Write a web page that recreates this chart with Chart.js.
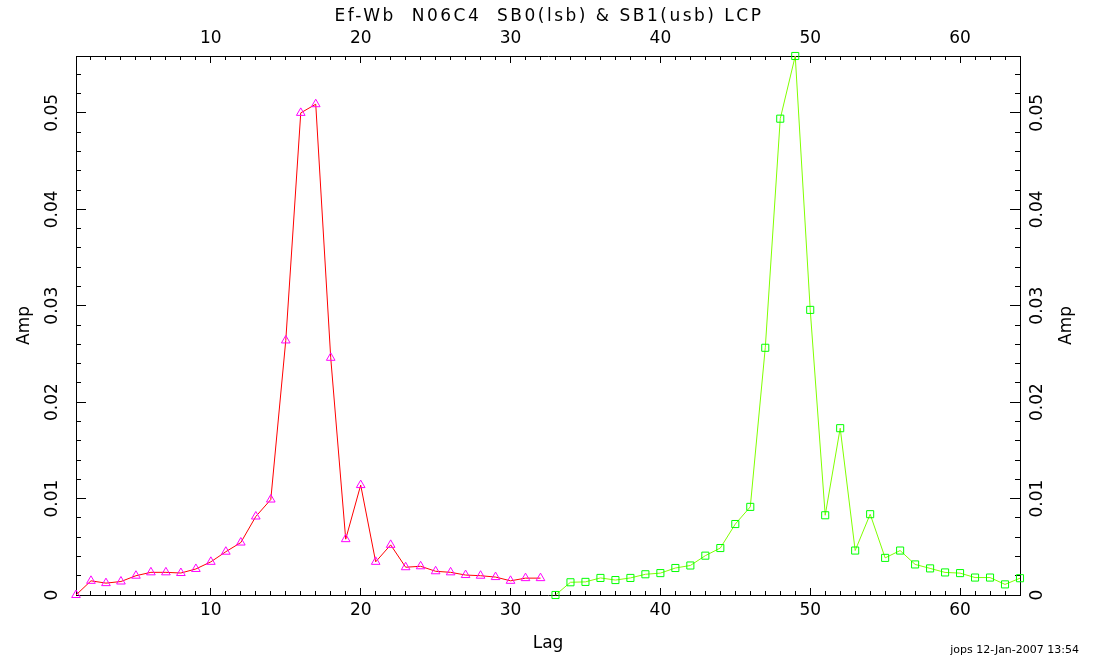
<!DOCTYPE html>
<html>
<head>
<meta charset="utf-8">
<script src="https://cdn.jsdelivr.net/npm/chart.js@4/dist/chart.umd.min.js"></script>
<style>
  html, body { margin: 0; padding: 0; background: #fff; }
  #wrap { width: 1104px; height: 659px; }
</style>
</head>
<body>
<div id="wrap"><canvas id="c" width="1104" height="659"></canvas></div>
<script>
// ---- data ----
const lagsLsb = [1,2,3,4,5,6,7,8,9,10,11,12,13,14,15,16,17,18,19,20,21,22,23,24,25,26,27,28,29,30,31,32];
const ampLsb  = [0, 0.00147, 0.00123, 0.0014, 0.0020, 0.00235, 0.00235, 0.00228, 0.0027, 0.00344,
                 0.00449, 0.00544, 0.00814, 0.0099, 0.0264, 0.0500, 0.0509, 0.0246, 0.00579, 0.0114,
                 0.00344, 0.0052, 0.00288, 0.00298, 0.00246, 0.00235, 0.00207, 0.0020, 0.00186, 0.00147,
                 0.00175, 0.00175];
const lagsUsb = [33,34,35,36,37,38,39,40,41,42,43,44,45,46,47,48,49,50,51,52,53,54,55,56,57,58,59,60,61,62,63,64];
const ampUsb  = [0, 0.00132, 0.00136, 0.00177, 0.00155, 0.00177, 0.00215, 0.00227, 0.0028, 0.00306,
                 0.00408, 0.00487, 0.00736, 0.00914, 0.02564, 0.0494, 0.0559, 0.02957, 0.00827, 0.0173,
                 0.00461, 0.00838, 0.00385, 0.00461, 0.00317, 0.00276, 0.00234, 0.00227, 0.00181, 0.00181,
                 0.0011, 0.00174];
const xMin = 1, xMax = 64;
const yMin = 0, yMax = 0.0559;
const xMajorStep = 10, xMinorStep = 1;
const yMajorStep = 0.01, yMinorStep = 0.002;
const titleText = 'Ef-Wb  N06C4  SB0(lsb) & SB1(usb) LCP';
const xTitle = 'Lag';
const yTitle = 'Amp';
const footerText = 'jops 12-Jan-2007 13:54';

// ---- chart ----
const FONT = 'DejaVu Sans';
Chart.defaults.font.family = FONT;
Chart.defaults.color = '#000';

const tickFont = { family: FONT, size: 17 };

function fixH(h) { return s => { s.height = h; }; }
function fixW(w) { return s => { s.width = w; }; }

function yLabel(v) { return v === 0 ? '0' : v.toFixed(2); }

const extraText = {
  id: 'extraText',
  afterDraw(chart) {
    const ctx = chart.ctx;
    const a = chart.chartArea;
    ctx.save();
    ctx.fillStyle = '#000';
    ctx.textAlign = 'center';
    ctx.textBaseline = 'middle';
    ctx.font = '17px "' + FONT + '"';
    if ('letterSpacing' in ctx) ctx.letterSpacing = '2.5px';
    ctx.fillText(titleText, (a.left + a.right) / 2 + 1, 17);
    if ('letterSpacing' in ctx) ctx.letterSpacing = '0px';
    ctx.save();
    ctx.translate(1067, (a.top + a.bottom) / 2);
    ctx.rotate(-Math.PI / 2);
    ctx.fillText(yTitle, 0, 0);
    ctx.restore();
    ctx.font = '11px "' + FONT + '"';
    ctx.textAlign = 'right';
    ctx.fillText(footerText, 1079, 650);
    ctx.restore();
  }
};

new Chart(document.getElementById('c'), {
  type: 'line',
  data: {
    datasets: [
      {
        label: 'SB0(lsb)',
        data: lagsLsb.map((x, i) => ({ x: x, y: ampLsb[i] })),
        borderColor: '#ff0000',
        borderWidth: 1,
        pointStyle: 'triangle',
        pointRadius: 5,
        pointBorderColor: '#ff00ff',
        pointBackgroundColor: 'rgba(0,0,0,0)',
        pointBorderWidth: 1,
        tension: 0,
        clip: false,
        xAxisID: 'x',
        yAxisID: 'y'
      },
      {
        label: 'SB1(usb)',
        data: lagsUsb.map((x, i) => ({ x: x, y: ampUsb[i] })),
        borderColor: '#80ff00',
        borderWidth: 1,
        pointStyle: 'rect',
        pointRadius: 5,
        pointBorderColor: '#00ff00',
        pointBackgroundColor: 'rgba(0,0,0,0)',
        pointBorderWidth: 1,
        tension: 0,
        clip: false,
        xAxisID: 'x',
        yAxisID: 'y'
      }
    ]
  },
  options: {
    responsive: false,
    devicePixelRatio: 1,
    animation: false,
    events: [],
    layout: { padding: 0 },
    plugins: { legend: { display: false }, tooltip: { enabled: false }, title: { display: false } },
    scales: {
      x: {
        type: 'linear', position: 'bottom', weight: 1, min: xMin, max: xMax,
        ticks: { stepSize: xMajorStep, includeBounds: false, autoSkip: false, maxRotation: 0, font: tickFont, color: '#000', padding: 12.8 },
        grid: { drawOnChartArea: false, tickLength: -7, tickColor: '#000', tickWidth: 1 },
        border: { display: true, color: '#000', width: 1 },
        title: { display: true, text: xTitle, font: tickFont, color: '#000', padding: { top: 0, bottom: 4.8 } },
        afterFit: fixH(64)
      },
      xMinor: {
        type: 'linear', position: 'bottom', weight: 0, min: xMin, max: xMax,
        ticks: { display: false, stepSize: xMinorStep, includeBounds: false, autoSkip: false },
        grid: { drawOnChartArea: false, tickLength: -4, tickColor: '#000', tickWidth: 1 },
        border: { display: false },
        afterFit: fixH(0)
      },
      xTop: {
        type: 'linear', position: 'top', weight: 1, min: xMin, max: xMax,
        ticks: { stepSize: xMajorStep, includeBounds: false, autoSkip: false, maxRotation: 0, font: tickFont, color: '#000', padding: 13.8 },
        grid: { drawOnChartArea: false, tickLength: -7, tickColor: '#000', tickWidth: 1 },
        border: { display: true, color: '#000', width: 1 },
        afterFit: fixH(56)
      },
      xTopMinor: {
        type: 'linear', position: 'top', weight: 0, min: xMin, max: xMax,
        ticks: { display: false, stepSize: xMinorStep, includeBounds: false, autoSkip: false },
        grid: { drawOnChartArea: false, tickLength: -4, tickColor: '#000', tickWidth: 1 },
        border: { display: false },
        afterFit: fixH(0)
      },
      y: {
        type: 'linear', position: 'left', weight: 1, min: yMin, max: yMax,
        ticks: { stepSize: yMajorStep, includeBounds: false, autoSkip: false, minRotation: 90, maxRotation: 90, crossAlign: 'center',
                 font: tickFont, color: '#000', padding: 14, callback: yLabel },
        grid: { drawOnChartArea: false, tickLength: -10, tickColor: '#000', tickWidth: 1 },
        border: { display: true, color: '#000', width: 1 },
        title: { display: true, text: yTitle, font: tickFont, color: '#000', padding: { top: 14.8, bottom: 0 } },
        afterFit: fixW(76)
      },
      yMinor: {
        type: 'linear', position: 'left', weight: 0, min: yMin, max: yMax,
        ticks: { display: false, stepSize: yMinorStep, includeBounds: false, autoSkip: false },
        grid: { drawOnChartArea: false, tickLength: -5, tickColor: '#000', tickWidth: 1 },
        border: { display: false },
        afterFit: fixW(0)
      },
      yRight: {
        type: 'linear', position: 'right', weight: 1, min: yMin, max: yMax,
        ticks: { stepSize: yMajorStep, includeBounds: false, autoSkip: false, minRotation: 90, maxRotation: 90, crossAlign: 'center',
                 font: tickFont, color: '#000', padding: 9, callback: yLabel },
        grid: { drawOnChartArea: false, tickLength: -10, tickColor: '#000', tickWidth: 1 },
        border: { display: true, color: '#000', width: 1 },
        afterFit: fixW(84)
      },
      yRightMinor: {
        type: 'linear', position: 'right', weight: 0, min: yMin, max: yMax,
        ticks: { display: false, stepSize: yMinorStep, includeBounds: false, autoSkip: false },
        grid: { drawOnChartArea: false, tickLength: -5, tickColor: '#000', tickWidth: 1 },
        border: { display: false },
        afterFit: fixW(0)
      }
    }
  },
  plugins: [extraText]
});
</script>
</body>
</html>
